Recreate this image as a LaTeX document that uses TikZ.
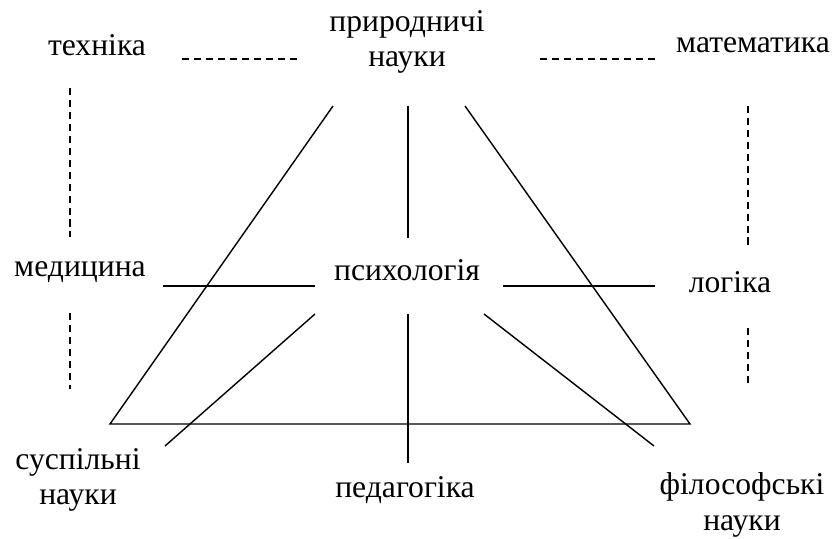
\documentclass[tikz,border=0pt]{standalone}
\usepackage{fontspec}
\setmainfont{Liberation Serif}
\usetikzlibrary{positioning}

\begin{document}
\begin{tikzpicture}[x=0.025cm, y=-0.025cm, every node/.style={font=\fontsize{22.5}{25}\selectfont, align=center}]
\tikzstyle{link}=[line width=1pt]
\tikzstyle{weak}=[line width=0.75pt, dash pattern=on 5pt off 3.5pt]
\useasboundingbox (0,0) rectangle (839,538);
\node (tech) at (97,45) {техніка};
\node (nat) at (407,42) {природничі\\науки};
\node (math) at (753,45) {математика};
\node (med) at (80,272) {медицина};
\node (psy) at (407,270) {психологія};
\node (log) at (730,282) {логіка};
\node (soc) at (78,480) {суспільні\\науки};
\node (ped) at (405,490) {педагогіка};
\node (phil) at (742,505) {філософські\\науки};
\coordinate (t1) at (182,59);
\coordinate (t2) at (300,59);
\coordinate (m1) at (540,59);
\coordinate (m2) at (655,59);
\coordinate (l1) at (70,88);
\coordinate (l2) at (70,237);
\coordinate (l3) at (70,313);
\coordinate (l4) at (70,389);
\coordinate (r1) at (748,106);
\coordinate (r2) at (748,247);
\coordinate (r3) at (748,328);
\coordinate (r4) at (748,387);
\coordinate (A) at (110,424);
\coordinate (B) at (690,424);
\coordinate (C1) at (333,106);
\coordinate (C2) at (465,106);
\coordinate (n1) at (408,106);
\coordinate (n2) at (408,238);
\coordinate (h1) at (163,286);
\coordinate (h2) at (315,286);
\coordinate (h3) at (503,286);
\coordinate (h4) at (655,286);
\coordinate (s1) at (315,314);
\coordinate (s2) at (165,446);
\coordinate (p1) at (484,314);
\coordinate (p2) at (654,446);
\coordinate (d1) at (408,314);
\coordinate (d2) at (408,463);
\draw[weak] (t1) -- (t2);
\draw[weak] (m1) -- (m2);
\draw[weak] (l1) -- (l2);
\draw[weak] (l3) -- (l4);
\draw[weak] (r1) -- (r2);
\draw[weak] (r3) -- (r4);
\draw[link] (C1) -- (A) -- (B) -- (C2);
\draw[link] (n1) -- (n2);
\draw[link] (h1) -- (h2);
\draw[link] (h3) -- (h4);
\draw[link] (s1) -- (s2);
\draw[link] (p1) -- (p2);
\draw[link] (d1) -- (d2);
\end{tikzpicture}
\end{document}
